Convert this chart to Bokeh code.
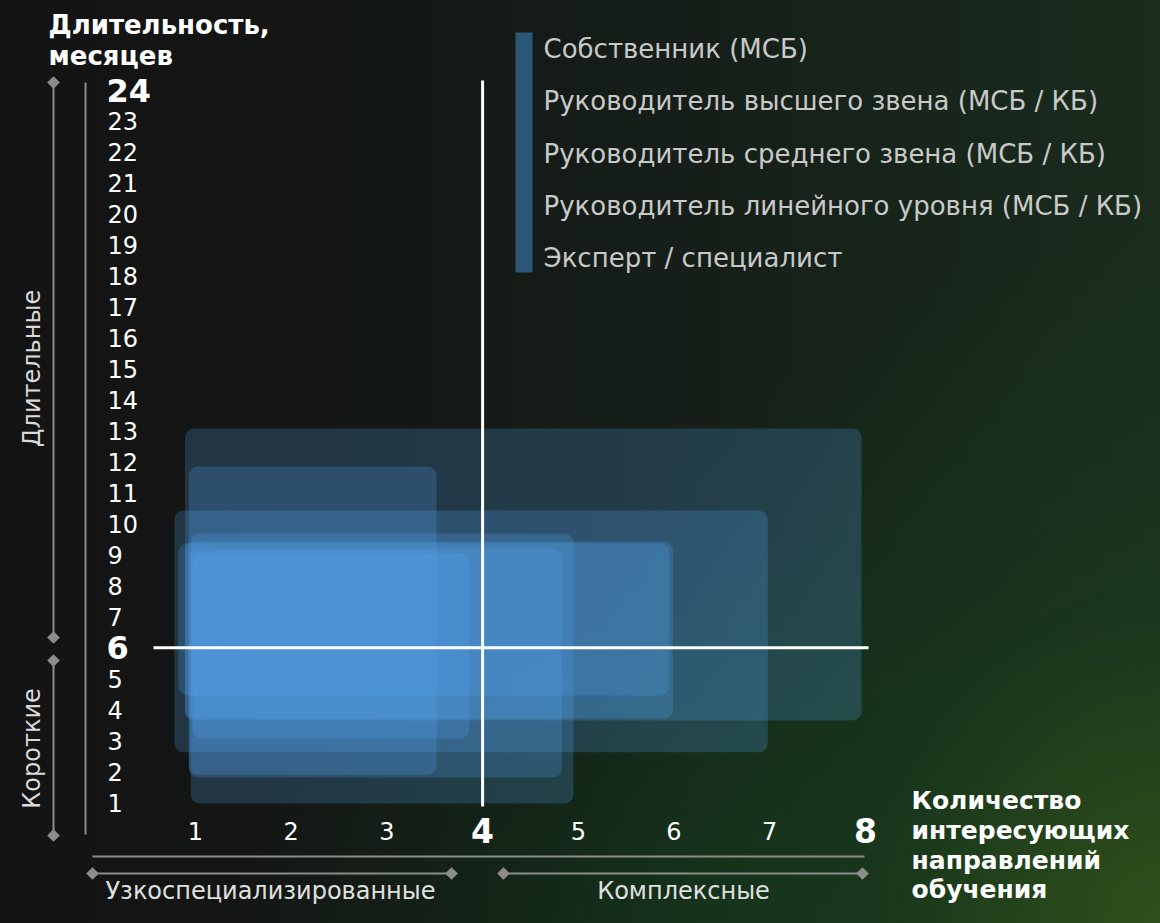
import numpy as np
from bokeh.plotting import figure
from bokeh.models import Range1d, GlobalInlineStyleSheet
from bokeh.core.properties import value
from bokeh.embed import file_html
from bokeh.resources import INLINE

# ---------------- data ----------------
roles = [
    "Собственник (МСБ)",
    "Руководитель высшего звена (МСБ / КБ)",
    "Руководитель среднего звена (МСБ / КБ)",
    "Руководитель линейного уровня (МСБ / КБ)",
    "Эксперт / специалист",
]
# zones: number of interesting directions (x) vs duration in months (y)
zone_x0 = [0.89, 0.93, 0.78, 0.95, 0.89, 0.82, 0.93, 0.97]
zone_x1 = [7.96, 3.52, 6.98, 4.95, 5.99, 5.95, 4.83, 3.86]
zone_y0 = [3.65, 1.90, 2.62, 0.97, 3.71, 4.46, 1.81, 3.07]
zone_y1 = [13.08, 11.85, 10.43, 9.69, 9.43, 9.37, 9.20, 9.04]

x_ticks = [1, 2, 3, 4, 5, 6, 7, 8]
x_bold = [4, 8]
y_ticks = list(range(1, 25))
y_bold = [6, 24]
x_split = 4
y_split = 6

y_title = ["Длительность,", "месяцев"]
x_title = ["Количество", "интересующих", "направлений", "обучения"]
y_groups = ["Длительные", "Короткие"]
x_groups = ["Узкоспециализированные", "Комплексные"]

# ---------------- layout helpers (picture pixel -> data) ----------------
def px2x(X):
    return 1 + (X - 195) / 95.7
def px2y(Y):
    return 1 + (802 - Y) / 30.96

W, H = 1144, 907
p = figure(width=W, height=H, output_backend="svg", toolbar_location=None,
           x_axis_location=None, y_axis_location=None, title=None,
           x_range=Range1d(px2x(0), px2x(W)),
           y_range=Range1d(px2y(H), px2y(0)),
           min_border=0)
p.background_fill_alpha = 0
p.border_fill_alpha = 0
p.outline_line_color = None
p.xgrid.visible = False
p.ygrid.visible = False

css = """
html {
  background:
    radial-gradient(ellipse 55% 75% at 100% 100%, rgba(48,82,26,0.95) 0%, rgba(26,60,28,0.6) 45%, rgba(20,40,24,0) 100%),
    radial-gradient(ellipse 45% 40% at 65% 100%, rgba(18,52,26,0.8) 0%, rgba(18,40,24,0) 100%),
    linear-gradient(90deg, #131313 0%, #141815 35%, #16221a 70%, #1a2c1e 100%);
  min-height: 100%;
}
body { background: transparent; }
"""
p.stylesheets = [GlobalInlineStyleSheet(css=css)]

FONT = value("DejaVu Sans")
GRAY = "#8c8c8c"

# ---------------- zones ----------------
p.quad(left=zone_x0, right=zone_x1, bottom=zone_y0, top=zone_y1,
       fill_color="#56aaf6", fill_alpha=0.22, line_color=None, border_radius=9)

# ---------------- quadrant lines ----------------
p.segment(x0=[x_split], y0=[px2y(806)], x1=[x_split], y1=[px2y(80)],
          line_color="white", line_width=3)
p.segment(x0=[px2x(153)], y0=[y_split], x1=[px2x(868)], y1=[y_split],
          line_color="white", line_width=3)

# ---------------- y tick labels ----------------
y_reg = [v for v in y_ticks if v not in y_bold]
p.text(x=[px2x(107)] * len(y_reg), y=y_reg, text=[str(v) for v in y_reg],
       text_font=FONT, text_font_size="24px", text_color="white",
       text_align="left", text_baseline="middle")
p.text(x=[px2x(106)] * len(y_bold), y=y_bold, text=[str(v) for v in y_bold],
       text_font=FONT, text_font_size="32px", text_font_style="bold",
       text_color="white", text_align="left", text_baseline="middle")

# ---------------- x tick labels ----------------
x_reg = [v for v in x_ticks if v not in x_bold]
yx = px2y(830)
p.text(x=x_reg, y=[yx] * len(x_reg), text=[str(v) for v in x_reg],
       text_font=FONT, text_font_size="24px", text_color="white",
       text_align="center", text_baseline="middle")
p.text(x=x_bold, y=[yx] * len(x_bold), text=[str(v) for v in x_bold],
       text_font=FONT, text_font_size="33px", text_font_style="bold",
       text_color="white", text_align="center", text_baseline="middle")

# ---------------- axis titles ----------------
p.text(x=[px2x(48)] * 2, y=[px2y(24), px2y(55)], text=y_title,
       text_font=FONT, text_font_size="26px", text_font_style="bold",
       text_color="white", text_align="left", text_baseline="middle")
p.text(x=[px2x(911)] * 4, y=[px2y(Y) for Y in (800, 830, 860, 889)], text=x_title,
       text_font=FONT, text_font_size="25px", text_font_style="bold",
       text_color="white", text_align="left", text_baseline="middle")

# ---------------- brackets ----------------
gx = px2x(53)
p.segment(x0=[gx, gx], y0=[px2y(82), px2y(660)], x1=[gx, gx], y1=[px2y(637), px2y(835)],
          line_color=GRAY, line_width=2)
p.segment(x0=[px2x(85)], y0=[px2y(82)], x1=[px2x(85)], y1=[px2y(834)],
          line_color=GRAY, line_width=2)
p.segment(x0=[px2x(92)], y0=[px2y(856)], x1=[px2x(864)], y1=[px2y(856)],
          line_color=GRAY, line_width=2)
by = px2y(873)
p.segment(x0=[px2x(92), px2x(503)], y0=[by, by], x1=[px2x(451), px2x(862)], y1=[by, by],
          line_color=GRAY, line_width=2)
dx = [gx, gx, gx, gx, px2x(92), px2x(451), px2x(503), px2x(862)]
dy = [px2y(82), px2y(637), px2y(660), px2y(835), by, by, by, by]
p.scatter(x=dx, y=dy, marker="square", angle=np.pi / 4, size=9,
          fill_color=GRAY, line_color=None)

p.text(x=[px2x(31), px2x(31)], y=[px2y(368), px2y(748)], text=y_groups,
       angle=np.pi / 2, text_font=FONT, text_font_size="24px", text_color="#d9d9d9",
       text_align="center", text_baseline="middle")
p.text(x=[px2x(270), px2x(683)], y=[px2y(890), px2y(890)], text=x_groups,
       text_font=FONT, text_font_size="24px", text_color="#e0e0e0",
       text_align="center", text_baseline="middle")

# ---------------- legend ----------------
p.quad(left=[px2x(515)], right=[px2x(532)], bottom=[px2y(272)], top=[px2y(32)],
       fill_color="#2d5776", line_color=None)
p.text(x=[px2x(543)] * len(roles), y=[px2y(Y) for Y in (48, 100, 153, 205, 257)],
       text=roles, text_font=FONT, text_font_size="26px", text_color="#c9c9c9",
       text_align="left", text_baseline="middle")

open("out.html", "w").write(file_html(p, INLINE))
